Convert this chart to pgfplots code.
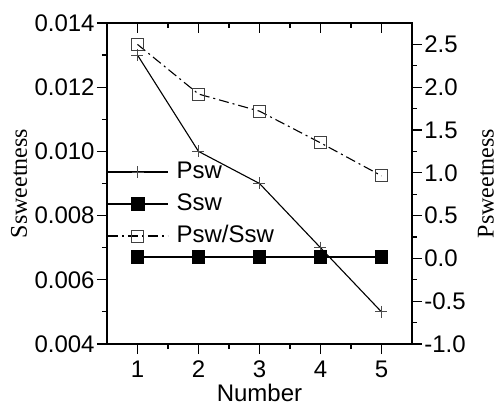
\documentclass[border=0pt]{standalone}
\usepackage{pgfplots}
\pgfplotsset{compat=1.18}
\usepackage{fontspec}
\setmainfont{Liberation Sans}
\newfontfamily\seriffont{Liberation Serif}
\pgfplotsset{
  common/.style={
    scale only axis, width=152.5pt, height=160.5pt,
    xmin=0.5, xmax=5.5,
    xtick={1,2,3,4,5}, minor x tick num=1,
    major tick length=5pt, minor tick length=2.5pt,
    /pgf/number format/assume math mode=true,
    font=\fontsize{12}{14}\selectfont,
    axis line style={line width=0.75pt},
    tick style={line width=0.6pt, black},
    scaled y ticks=false,
    legend image code/.code={\draw[mark repeat=2,mark phase=2] plot coordinates {(0pt,0pt) (15pt,0pt) (30pt,0pt)};},
  },
  pswstyle/.style={black, line width=0.55pt, mark=+, mark size=3pt, mark options={solid, black!70, line width=0.5pt}},
  sswstyle/.style={black, line width=0.55pt, mark=square*, mark size=3pt, mark options={solid, fill=black}},
  ratiostyle/.style={black, line width=0.55pt, dash pattern=on 5pt off 2pt on 1pt off 2pt, mark=square, mark size=3pt, mark options={solid, black!75, line width=0.5pt}},
}
\begin{document}
\begin{tikzpicture}
\begin{axis}[common, name=main,
  ymin=0.004, ymax=0.014,
  ytick={0.004,0.006,0.008,0.010,0.012,0.014}, minor y tick num=1,
  xtick pos=bottom, ytick pos=left, tick align=outside,
  yticklabel style={/pgf/number format/fixed, /pgf/number format/precision=3, /pgf/number format/fixed zerofill, inner sep=1pt},
  xlabel={Number}, ylabel={\seriffont Ssweetness},
  xlabel style={at={(axis description cs:0.5,-0.152)}, anchor=center},
  ylabel style={at={(axis description cs:-0.2885,0.5)}, anchor=center},
]
\addplot[pswstyle] coordinates {(1,0.0130) (2,0.0100) (3,0.0090) (4,0.0070) (5,0.0050)};
\addplot[sswstyle] coordinates {(1,0.00671) (2,0.00671) (3,0.00671) (4,0.00671) (5,0.00671)};
\end{axis}
\begin{axis}[common,
  ymin=-1, ymax=2.75,
  ytick={-1,-0.5,0,0.5,1,1.5,2,2.5}, minor y tick num=1,
  axis x line=none, axis y line*=right, tick align=outside,
  yticklabel style={/pgf/number format/fixed, /pgf/number format/precision=1, /pgf/number format/fixed zerofill, inner sep=1pt},
  ylabel={\seriffont Psweetness},
  ylabel style={at={(axis description cs:1.2426,0.5)}, anchor=center},
  legend style={draw=none, fill=none, at={(0,0.436)}, anchor=west, inner xsep=0pt, inner ysep=0pt,
    row sep=5pt, column sep=4pt, font=\fontsize{12}{14}\selectfont,
    nodes={inner sep=0pt, text height=8.6pt, text depth=2.4pt}},
  legend cell align=left,
]
\addlegendimage{pswstyle}
\addlegendentry{Psw}
\addlegendimage{sswstyle}
\addlegendentry{Ssw}
\addplot[ratiostyle] coordinates {(1,2.50) (2,1.92) (3,1.72) (4,1.35) (5,0.965)};
\addlegendentry{Psw/Ssw}
\end{axis}
\begin{axis}[common,
  ymin=0, ymax=1,
  axis y line=none, axis x line*=top, xtick pos=top, tick align=inside,
  xticklabels={},
]
\end{axis}
\pgfresetboundingbox
\useasboundingbox ([shift={(-53.5pt,-31pt)}]main.south west) rectangle ([shift={(42.5pt,11.5pt)}]main.north east);
\end{tikzpicture}
\end{document}
